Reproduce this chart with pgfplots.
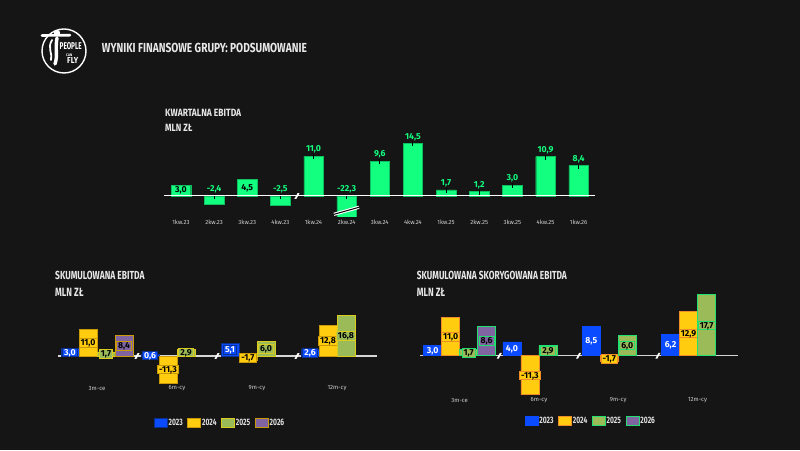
\documentclass[border=0pt]{standalone}
\usepackage{pgfplots}
\pgfplotsset{compat=1.18}
\usepackage{fontspec}
\usepackage{graphicx}
\setmainfont{Fira Sans}
\newfontfamily\condfont{Fira Sans}[FakeStretch=0.72]

\definecolor{bg}{HTML}{151515}
\definecolor{qgreen}{HTML}{12FF80}
\definecolor{cblue}{HTML}{0A4BFF}
\definecolor{cblueedge}{HTML}{0B2F8F}
\definecolor{cyellow}{HTML}{FFCC0F}
\definecolor{colive}{HTML}{9BBB59}
\definecolor{cpurple}{HTML}{8064A2}
\definecolor{cgold}{HTML}{C99A06}
\definecolor{clime}{HTML}{D9CC1E}
\definecolor{corange}{HTML}{F08C28}
\definecolor{cbright}{HTML}{22E070}
\definecolor{headgrey}{HTML}{E8E8E8}
\definecolor{tickgrey}{HTML}{D0D0D0}
\definecolor{basegrey}{HTML}{D6D6D6}
\definecolor{legendgrey}{HTML}{E0E0E0}

% heading: x, baseline y, width, cap height, text
\newcommand\head[5]{\node[anchor=base west, inner sep=0pt, text=headgrey] at (#1pt,#2pt) {\resizebox{#3pt}{#4pt}{\condfont\bfseries #5}};}
% small slanted break mark on a baseline
\newcommand\brk[1]{\fill[white] ([shift={(-2.6pt,-2.9pt)}]axis cs:#1,0) -- ++(2.0pt,0pt) -- ++(3.2pt,5.8pt) -- ++(-2.0pt,0pt) -- cycle;}
% quarterly value label above the bar (or above the baseline for negatives)
\newcommand\qlab[3]{%
  \draw[black, line width=0.9pt] ([yshift=2pt]axis cs:#1,#2) -- ([yshift=-3pt]axis cs:#1,#2);
  \node[anchor=center, inner sep=0pt, text=qgreen, font=\bfseries\fontsize{8.7}{9}\selectfont] at ([yshift=6.5pt]axis cs:#1,#2) {#3};}
\newcommand\qin[3]{\node[anchor=center, inner sep=0pt, text=black, font=\bfseries\fontsize{8.7}{9}\selectfont] at (axis cs:#1,#2) {#3};}

\pgfplotsset{
  panel/.style={
    scale only axis, anchor=south west,
    axis line style={draw=none}, major tick length=0pt,
    ytick=\empty, clip mode=individual,
    xticklabel style={anchor=center, text=tickgrey, font=\fontsize{6}{6}\selectfont},
    /pgf/number format/use comma, /pgf/number format/fixed,
    /pgf/number format/fixed zerofill, /pgf/number format/precision=1,
    /pgf/number format/assume math mode=true,
  },
  cumul/.style={
    panel, ybar=0pt, bar width=18pt,
    xtick={0,1,2,3}, xticklabels={3m-ce,6m-cy,9m-cy,12m-cy},
    nodes near coords,
    visualization depends on={rawy \as \rawy},
    every node near coord/.append style={anchor=center,
      font=\bfseries\fontsize{8.7}{9}\selectfont,
      inner xsep=1.6pt, inner ysep=1pt, text height=6.2pt, text depth=0.3pt,
      line width=0.7pt},
    legend image code/.code={\draw[#1, line width=0.8pt] (0pt,-4.6pt) rectangle (13pt,4.6pt);},
    legend columns=4,
    legend style={draw=none, fill=none, inner sep=0pt, anchor=west,
      text=legendgrey, font=\condfont\bfseries\fontsize{9.3}{9}\selectfont,
      /tikz/every even column/.append style={column sep=3.6pt},
      nodes={inner sep=1pt}},
  },
}

\begin{document}
\begin{tikzpicture}
\fill[bg] (0pt,0pt) rectangle (800pt,450pt);
\useasboundingbox (0pt,0pt) rectangle (800pt,450pt);

% ---- logo ----
\begin{scope}[x=1pt,y=1pt]
\draw[white, line width=1.4pt] (64,399) circle[radius=22pt];
\draw[white, line width=2.6pt, line cap=round] (42,414.5) -- (70,414.8);
\fill[white] (57,417) circle[radius=3.2pt];
\draw[white, line width=3.4pt, line cap=round] (57,412) .. controls (55,400) and (58,395) .. (55,386);
\draw[white, line width=1.8pt, line cap=round] (52,410) .. controls (47,402) and (53,396) .. (51,390);
\node[anchor=base west, inner sep=0pt, text=white] at (59.5,400) {\resizebox{22pt}{7pt}{\condfont\bfseries PEOPLE}};
\node[anchor=base west, inner sep=0pt, text=white] at (66,393.5) {\resizebox{6pt}{2.6pt}{\condfont\bfseries CAN}};
\node[anchor=base west, inner sep=0pt, text=white] at (67,386) {\resizebox{11pt}{6pt}{\condfont\bfseries FLY}};
\end{scope}

% ---- headings ----
\head{101.7}{397}{205}{9.3}{WYNIKI FINANSOWE GRUPY: PODSUMOWANIE}
\head{165}{333.7}{76}{7.3}{KWARTALNA EBITDA}
\head{165}{318.4}{27.3}{7.3}{MLN ZŁ}
\head{55}{170.2}{89.3}{8.3}{SKUMULOWANA EBITDA}
\head{55}{153.6}{28.3}{8.3}{MLN ZŁ}
\head{416.7}{170.2}{150}{8.3}{SKUMULOWANA SKORYGOWANA EBITDA}
\head{416.7}{153.9}{28.3}{8.3}{MLN ZŁ}

% ---- quarterly EBITDA ----
\begin{axis}[panel, at={(164.4pt,233.3pt)}, width=430.8pt, height=85.87pt,
  xmin=-0.5, xmax=12.5, ymin=-5.72, ymax=18,
  ybar, bar width=19.5pt,
  xtick={0,...,12},
  xticklabels={1kw.23,2kw.23,3kw.23,4kw.23,1kw.24,2kw.24,3kw.24,4kw.24,1kw.25,2kw.25,3kw.25,4kw.25,1kw.26},
  xticklabel style={yshift=-5.4pt}]
\addplot[fill=qgreen, draw=qgreen!75!black, line width=0.4pt] table {
x y
0 3.0
1 -2.4
2 4.5
3 -2.5
4 11.0
5 -22.3
6 9.6
7 14.5
8 1.7
9 1.2
10 3.0
11 10.9
12 8.4
};
\qin{0}{1.5}{3,0}
\qlab{1}{0}{-2,4}
\qin{2}{2.25}{4,5}
\qlab{3}{0}{-2,5}
\qlab{4}{11.0}{11,0}
\qlab{5}{0}{-22,3}
\qlab{6}{9.6}{9,6}
\qlab{7}{14.5}{14,5}
\qlab{8}{1.7}{1,7}
\qlab{9}{1.2}{1,2}
\qlab{10}{3.0}{3,0}
\qlab{11}{10.9}{10,9}
\qlab{12}{8.4}{8,4}
% break of the truncated bar
\draw[white, line width=3.2pt] (axis cs:4.617,-5.06) -- (axis cs:5.371,-3.12);
\draw[black, line width=1pt] (axis cs:4.617,-5.06) -- (axis cs:5.371,-3.12);
\draw[white, line width=1pt] (axis cs:-0.5,0) -- (axis cs:12.5,0);
\brk{3.5}
\end{axis}

% ---- cumulative EBITDA ----
\begin{axis}[cumul, at={(57.8pt,65.2pt)}, width=319.2pt, height=72pt,
  xmin=-0.49, xmax=3.5, ymin=-12, ymax=18,
  xticklabel style={yshift=-3.5pt},
  every node near coord/.append style={yshift={-1.2*(\rawy)*1pt}},
  legend style={at={(0.300,-0.526)}}]
\draw[basegrey, line width=1.1pt] (axis cs:-0.49,0) -- (axis cs:3.5,0);
\brk{0.5}\brk{1.5}\brk{2.5}
\addplot[fill=cblue, draw=cblueedge, line width=0.7pt,
  every node near coord/.append style={fill=cblue, draw=cblueedge, text=white}]
  coordinates {(0,3.0) (1,0.6) (2,5.1) (3,2.6)};
\addlegendentry{2023}
\addplot[fill=cyellow, draw=cgold, line width=0.7pt,
  every node near coord/.append style={fill=cyellow, draw=cgold, text=black}]
  coordinates {(0,11.0) (1,-11.3) (2,-1.7) (3,12.8)};
\addlegendentry{2024}
\addplot[fill=colive, draw=clime, line width=0.7pt,
  every node near coord/.append style={fill=colive, draw=clime, text=black}]
  coordinates {(0,1.7) (1,2.9) (2,6.0) (3,16.8)};
\addlegendentry{2025}
\addplot[fill=cpurple, draw=cgold, line width=0.7pt,
  every node near coord/.append style={fill=cpurple, draw=cgold, text=black}]
  coordinates {(0,8.4)};
\addlegendentry{2026}
\end{axis}

% ---- cumulative adjusted EBITDA ----
\begin{axis}[cumul, at={(420pt,52.9pt)}, width=318pt, height=106.95pt,
  xmin=-0.5, xmax=3.51, ymin=-12, ymax=19,
  xticklabel style={yshift=-2.9pt},
  every node near coord/.append style={yshift={-1.725*(\rawy)*1pt}},
  legend style={at={(0.328,-0.2235)}}]
\draw[basegrey, line width=1.1pt] (axis cs:-0.5,0) -- (axis cs:3.51,0);
\brk{0.5}\brk{1.5}\brk{2.5}
\addplot[fill=cblue, draw=cblue, line width=0.7pt,
  every node near coord/.append style={fill=cblue, draw=cblue, text=white}]
  coordinates {(0,3.0) (1,4.0) (2,8.5) (3,6.2)};
\addlegendentry{2023}
\addplot[fill=cyellow, draw=corange, line width=0.7pt,
  every node near coord/.append style={fill=cyellow, draw=corange, text=black}]
  coordinates {(0,11.0) (1,-11.3) (2,-1.7) (3,12.9)};
\addlegendentry{2024}
\addplot[fill=colive, draw=cbright, line width=0.7pt,
  every node near coord/.append style={fill=colive, draw=cbright, text=black}]
  coordinates {(0,1.7) (1,2.9) (2,6.0) (3,17.7)};
\addlegendentry{2025}
\addplot[fill=cpurple, draw=cbright, line width=0.7pt,
  every node near coord/.append style={fill=cpurple, draw=cbright, text=black}]
  coordinates {(0,8.6)};
\addlegendentry{2026}
\end{axis}
\end{tikzpicture}
\end{document}
